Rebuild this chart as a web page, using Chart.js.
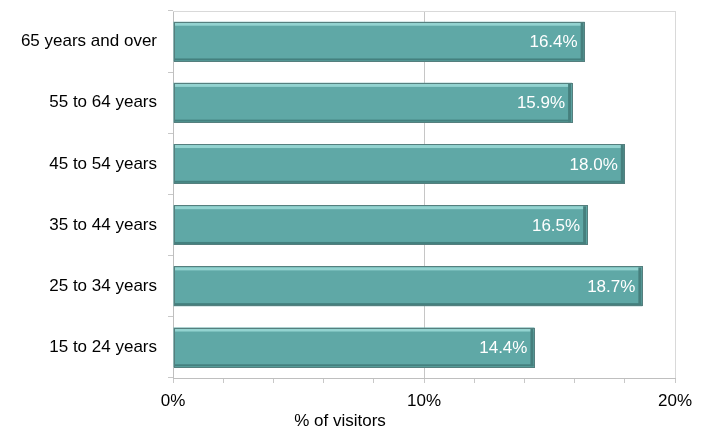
<!DOCTYPE html>
<html>
<head>
<meta charset="utf-8">
<script src="https://cdn.jsdelivr.net/npm/chart.js@4.4.0/dist/chart.umd.min.js"></script>
<style>
  html, body { margin: 0; padding: 0; background: #fff; }
  #wrap { width: 707px; height: 432px; }
</style>
</head>
<body>
<div id="wrap"><canvas id="mycanvas"></canvas></div>
<script>
var ageGroups = ['65 years and over', '55 to 64 years', '45 to 54 years', '35 to 44 years', '25 to 34 years', '15 to 24 years'];
var visitorShare = [16.4, 15.9, 18.0, 16.5, 18.7, 14.4];
var xTicks = [0, 10, 20];

var FONT = 'Arial, "Liberation Sans", sans-serif';

// bevelled look on the bars + value labels + frame + axis title
var barDecor = {
	id: 'barDecor',
	afterDatasetsDraw: function(chart) {
		var ctx = chart.ctx;
		var meta = chart.getDatasetMeta(0);
		var area = chart.chartArea;
		ctx.save();
		meta.data.forEach(function(bar, i) {
			var p = bar.getProps(['x', 'y', 'base', 'height'], true);
			var top = p.y - p.height / 2, bot = p.y + p.height / 2;
			var left = p.base, right = p.x;
			// light top edge
			ctx.fillStyle = '#93d3d0';
			ctx.fillRect(left + 1, top + 1, right - left - 2, 3);
			// dark bottom edge
			ctx.fillStyle = '#44807e';
			ctx.fillRect(left + 1, bot - 3, right - left - 2, 2);
			// dark right edge
			ctx.fillStyle = '#467f7d';
			ctx.fillRect(right - 4, top + 1, 3, p.height - 2);
			// outline
			ctx.strokeStyle = '#557f7e';
			ctx.lineWidth = 1;
			ctx.strokeRect(Math.round(left) + 0.5, Math.round(top) + 0.5, Math.round(right - left) - 1, Math.round(p.height) - 1);
			// value label
			ctx.fillStyle = '#ffffff';
			ctx.font = '17px ' + FONT;
			ctx.textAlign = 'right';
			ctx.textBaseline = 'middle';
			ctx.fillText(visitorShare[i].toFixed(1) + '%', right - 7, p.y + 1);
		});
		// top frame line
		ctx.strokeStyle = '#d9d9d9';
		ctx.beginPath();
		ctx.moveTo(area.left, Math.round(area.top) + 0.5);
		ctx.lineTo(area.right, Math.round(area.top) + 0.5);
		ctx.stroke();
		// axis title
		ctx.fillStyle = '#000';
		ctx.font = '17px ' + FONT;
		ctx.textAlign = 'center';
		ctx.textBaseline = 'middle';
		ctx.fillText('% of visitors', 340, 421);
		ctx.restore();
	}
};

var chartdata = {
	labels: ageGroups,
	datasets: [{
		label: '% of visitors',
		data: visitorShare,
		backgroundColor: '#5fa8a6',
		borderWidth: 0,
		barPercentage: 0.65,
		categoryPercentage: 1.0
	}]
};

var ctx = document.getElementById('mycanvas');

var barGraph = new Chart(ctx, {
	type: 'bar',
	data: chartdata,
	plugins: [barDecor],
	options: {
		indexAxis: 'y',
		responsive: true,
		maintainAspectRatio: false,
		animation: false,
		layout: { padding: { top: 11, right: 32, left: 0, bottom: 0 } },
		plugins: {
			legend: { display: false },
			tooltip: { enabled: false }
		},
		scales: {
			x: {
				min: 0,
				max: 20,
				afterFit: function(scale) {
					scale.height = 54;
					scale.paddingLeft = 0;
					scale.paddingRight = 0;
				},
				afterBuildTicks: function(scale) {
					var t = [];
					for (var v = 0; v <= 20; v += 2) t.push({ value: v });
					scale.ticks = t;
				},
				ticks: {
					color: '#000',
					font: { family: FONT, size: 17 },
					padding: 8,
					maxRotation: 0,
					autoSkip: false,
					callback: function(v) { return xTicks.indexOf(v) >= 0 ? v + '%' : ''; }
				},
				border: { color: '#bfbfbf' },
				grid: {
					color: function(c) {
						if (c.tick && c.tick.value === 10) return '#c6c6c6';
						if (c.tick && c.tick.value === 20) return '#d9d9d9';
						return 'rgba(0,0,0,0)';
					},
					tickColor: '#c8c8c8',
					tickLength: 5
				}
			},
			y: {
				afterFit: function(scale) {
					scale.width = 173;
					scale.paddingTop = 0;
					scale.paddingBottom = 0;
				},
				ticks: {
					color: '#000',
					font: { family: FONT, size: 17 },
					padding: 11
				},
				border: { color: '#bfbfbf' },
				grid: {
					offset: true,
					drawOnChartArea: false,
					tickColor: '#c8c8c8',
					tickLength: 5
				}
			}
		}
	}
});
</script>
</body>
</html>
